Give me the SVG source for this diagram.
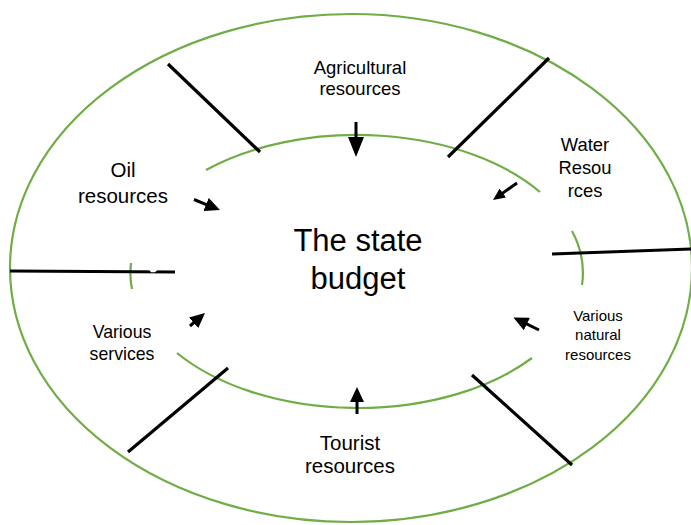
<svg xmlns="http://www.w3.org/2000/svg" width="691" height="525" viewBox="0 0 691 525">
<style>
.ring{fill:none;stroke:#70AD47;stroke-width:2.2}
.bar{stroke:#000;stroke-width:3.2;fill:none}
.arr{stroke:#000;stroke-width:3;fill:none}
text{font-family:"Liberation Sans",Arial,sans-serif;fill:#000;text-anchor:middle}
</style>
<defs>
<marker id="big" markerUnits="userSpaceOnUse" markerWidth="20" markerHeight="16" viewBox="0 0 20 16" refX="1" refY="8" orient="auto"><path d="M0,0 L20,8 L0,16 z" fill="#000"/></marker>
<marker id="mid" markerUnits="userSpaceOnUse" markerWidth="15" markerHeight="14" viewBox="0 0 15 14" refX="1" refY="7" orient="auto"><path d="M0,0 L15,7 L0,14 z" fill="#000"/></marker>
<marker id="small" markerUnits="userSpaceOnUse" markerWidth="12" markerHeight="11" viewBox="0 0 12 11" refX="1" refY="5.5" orient="auto"><path d="M0,0 L12,5.5 L0,11 z" fill="#000"/></marker>
</defs>
<rect width="691" height="525" fill="#fff"/>
<g id="rings">
<ellipse class="ring" cx="351" cy="268" rx="341" ry="254"/>
<path class="ring" d="M206,170 A225,136 0 0 1 540,192"/>
<path class="ring" d="M177,353 A225,136 0 0 0 532,358"/>
<path class="ring" d="M131,263 A225,136 0 0 0 132,289"/>
<path class="ring" d="M572,231 A225,136 0 0 1 582,285"/>
</g>
<g id="connectors">
<line class="bar" x1="168" y1="64" x2="260" y2="152"/>
<line class="bar" x1="549" y1="58" x2="448" y2="157"/>
<line class="bar" x1="552" y1="254" x2="691" y2="249" stroke-width="3.6"/>
<line class="bar" x1="10" y1="271" x2="175" y2="272"/>
<polygon points="149,269.5 158,269.5 155,272.2 151,272.2" fill="#fff"/>
<line class="bar" x1="128" y1="452" x2="228" y2="368"/>
<line class="bar" x1="472" y1="375" x2="572" y2="465"/>
<line class="arr" x1="356" y1="122" x2="356" y2="138" marker-end="url(#big)"/>
<line class="arr" x1="357" y1="414" x2="357" y2="401" marker-end="url(#mid)"/>
<line class="arr" x1="194" y1="199.5" x2="207" y2="204.8" marker-end="url(#mid)"/>
<line class="arr" x1="539" y1="330" x2="526" y2="323.6" marker-end="url(#mid)"/>
<line class="arr" x1="517" y1="183" x2="502" y2="193.6" stroke-width="2" marker-end="url(#small)"/>
<line class="arr" x1="190" y1="326" x2="194.4" y2="322.2" marker-end="url(#mid)"/>
</g>
<g id="node-center"><text x="358" y="251" font-size="31">The state</text><text x="358" y="289" font-size="31">budget</text></g>
<g id="node-agricultural"><text x="360" y="74" font-size="18.5">Agricultural</text><text x="360" y="95" font-size="18.5">resources</text></g>
<g id="node-water"><text x="585" y="151" font-size="18.4">Water</text><text x="585" y="174" font-size="18.4">Resou</text><text x="585" y="197" font-size="18.4">rces</text></g>
<g id="node-oil"><text x="123" y="177" font-size="20.5">Oil</text><text x="123" y="203" font-size="20.5">resources</text></g>
<g id="node-services"><text x="122" y="338" font-size="17.7">Various</text><text x="122" y="360" font-size="17.7">services</text></g>
<g id="node-natural"><text x="598" y="321" font-size="15">Various</text><text x="598" y="340" font-size="15">natural</text><text x="598" y="360" font-size="15">resources</text></g>
<g id="node-tourist"><text x="350" y="450" font-size="20.5">Tourist</text><text x="350" y="473" font-size="20.5">resources</text></g>
</svg>
